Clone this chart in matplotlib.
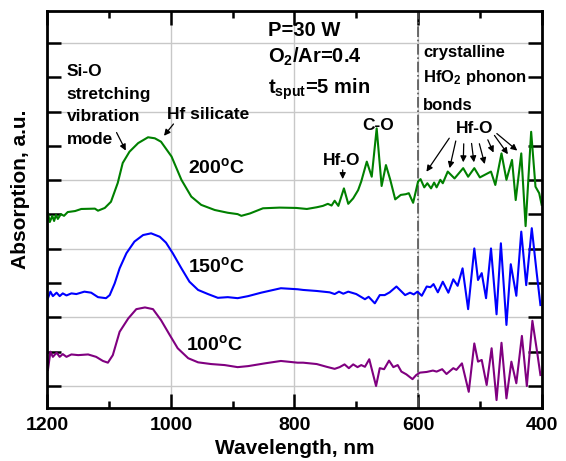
"""
FTIR-style absorption spectra of HfO2 films sputtered at 100/150/200 C.
"""
import matplotlib
matplotlib.use('Agg')
import matplotlib.pyplot as plt
from matplotlib.ticker import MultipleLocator, FixedLocator

plt.rcParams['font.family'] = ['Liberation Sans', 'DejaVu Sans']
plt.rcParams['font.weight'] = 'bold'
plt.rcParams['mathtext.fontset'] = 'custom'
plt.rcParams['mathtext.rm'] = 'Liberation Sans:bold'
plt.rcParams['mathtext.default'] = 'rm'

GREEN = '#008000'
BLUE = '#0000ff'
PURPLE = '#800080'

# --- data (wavelength nm, absorption in arbitrary offset units) ---
wl_200 = [1199, 1196, 1192, 1189, 1186, 1183, 1178, 1173, 1167, 1155, 1145, 1123, 1118,
          1107, 1097, 1086, 1078, 1067, 1053, 1037, 1026, 1016, 999, 983, 967, 951, 929,
          908, 892, 886, 872, 851, 824, 797, 780, 764, 754, 746, 740, 735, 729, 720, 713,
          705, 697, 692, 683, 675, 667, 659, 652, 645, 637, 628, 620, 615, 608, 600, 596,
          590, 585, 579, 574, 570, 564, 560, 552, 541, 527, 519, 509, 500, 482, 475, 465,
          457, 448, 442, 433, 426, 417, 410, 404, 400]
abs_200 = [5.04, 4.78, 4.96, 4.81, 4.99, 4.87, 5.01, 4.96, 5.07, 5.10, 5.16, 5.17, 5.11,
           5.19, 5.37, 5.92, 6.50, 6.83, 7.08, 7.25, 7.22, 7.12, 6.69, 6.01, 5.52, 5.28, 5.13,
           5.05, 5.01, 4.96, 5.03, 5.18, 5.20, 5.19, 5.16, 5.21, 5.25, 5.31, 5.26, 5.40, 5.25,
           5.76, 5.31, 5.47, 5.71, 5.96, 6.54, 6.10, 7.51, 5.83, 6.44, 6.01, 5.44, 5.57, 5.59,
           5.62, 5.34, 5.96, 6.03, 5.79, 5.91, 5.76, 5.93, 5.79, 6.01, 5.91, 6.25, 6.05, 6.35,
           6.10, 6.35, 6.08, 6.25, 5.86, 6.78, 6.01, 6.59, 5.42, 6.78, 4.66, 7.41, 5.81, 5.62,
           5.28]

wl_150 = [1199, 1195, 1191, 1185, 1180, 1175, 1169, 1161, 1153, 1140, 1129, 1118, 1105,
          1099, 1091, 1083, 1072, 1059, 1045, 1032, 1018, 1008, 997, 983, 970, 956, 940,
          924, 908, 892, 875, 854, 822, 795, 786, 764, 743, 735, 728, 721, 713, 700, 686,
          680, 670, 662, 654, 646, 635, 621, 613, 607, 601, 594, 586, 580, 575, 568, 560,
          551, 543, 536, 528, 519, 509, 503, 497, 490, 482, 473, 466, 457, 450, 441, 433,
          425, 416, 408, 402]
abs_150 = [2.56, 2.75, 2.62, 2.72, 2.62, 2.70, 2.64, 2.70, 2.68, 2.75, 2.72, 2.59, 2.56,
           2.65, 2.99, 3.43, 3.87, 4.21, 4.40, 4.45, 4.35, 4.18, 3.87, 3.43, 3.04, 2.80, 2.68,
           2.57, 2.59, 2.56, 2.62, 2.72, 2.85, 2.82, 2.80, 2.77, 2.73, 2.68, 2.75, 2.69, 2.75,
           2.68, 2.53, 2.60, 2.41, 2.65, 2.65, 2.73, 2.90, 2.65, 2.72, 2.67, 2.75, 2.63, 2.90,
           2.88, 2.97, 2.73, 3.04, 2.72, 3.11, 2.92, 3.43, 2.24, 4.01, 3.09, 3.29, 2.56, 4.01,
           2.09, 4.16, 1.78, 3.55, 2.63, 4.50, 2.94, 4.60, 3.29, 2.36]

wl_100 = [1199, 1195, 1191, 1185, 1180, 1175, 1169, 1161, 1150, 1134, 1121, 1110, 1102,
          1094, 1083, 1069, 1056, 1042, 1029, 1016, 1002, 989, 972, 956, 935, 913, 892, 875,
          848, 822, 795, 786, 764, 748, 735, 727, 719, 712, 705, 698, 692, 686, 679, 668,
          662, 655, 647, 640, 633, 627, 619, 609, 603, 597, 586, 576, 570, 561, 554, 543,
          538, 529, 518, 509, 503, 497, 489, 481, 473, 465, 457, 449, 441, 432, 424, 415,
          407, 402]
abs_100 = [0.47, 1.00, 0.85, 0.97, 0.85, 0.93, 0.85, 0.92, 0.90, 0.92, 0.85, 0.73, 0.68,
           0.90, 1.58, 1.97, 2.24, 2.29, 2.24, 1.92, 1.49, 1.10, 0.81, 0.69, 0.64, 0.61, 0.55,
           0.58, 0.66, 0.73, 0.68, 0.68, 0.64, 0.56, 0.50, 0.55, 0.63, 0.52, 0.63, 0.55, 0.61,
           0.56, 0.78, 0.00, 0.52, 0.49, 0.74, 0.55, 0.61, 0.42, 0.34, 0.20, 0.32, 0.39, 0.41,
           0.45, 0.42, 0.49, 0.35, 0.52, 0.47, 0.66, -0.17, 1.24, 0.71, 0.76, 0.03, 1.10,
           -0.41, 1.26, -0.36, 0.71, 0.08, 1.46, 0.00, 1.90, 0.95, 0.32]

# Hf-O phonon arrows (tail -> head, in data coords)
hfo_tails = [(547, 7.29), (538, 7.22), (526, 7.14), (514, 7.15), (502, 7.14),
             (489, 7.25), (479, 7.37), (476, 7.41)]
hfo_heads = [(589, 6.18), (550, 6.27), (527, 6.44), (509, 6.44), (491, 6.39),
             (476, 6.73), (452, 6.69), (436, 6.81)]

B = 'bold'

fig = plt.figure(figsize=(5.66, 4.61), dpi=100)
ax = fig.add_axes([0.0836, 0.1143, 0.8734, 0.8618])

for x, y, c in [(wl_200, abs_200, GREEN), (wl_150, abs_150, BLUE), (wl_100, abs_100, PURPLE)]:
    ax.plot(x, y, color=c, lw=1.5, solid_joinstyle='round')

ax.set_xlim(1200, 400)
ax.set_ylim(-0.65, 10.93)

ax.xaxis.set_major_locator(FixedLocator([1200, 1000, 800, 600, 400]))
ax.xaxis.set_minor_locator(MultipleLocator(100))
ax.yaxis.set_major_locator(MultipleLocator(2))
ax.yaxis.set_minor_locator(MultipleLocator(1))
ax.set_yticklabels([])

ax.grid(True, which='major', color='#c8c8c8', lw=1.0)
ax.set_axisbelow(True)
ax.axvline(600, color='#555555', lw=1.2, ls='-.', zorder=1)

ax.tick_params(which='both', direction='in', top=True, right=True, width=1.8,
               labelsize=14, pad=6)
ax.tick_params(which='major', length=10)
ax.tick_params(axis='x', which='minor', length=5)
ax.tick_params(axis='y', which='minor', length=10)
for lbl in ax.get_xticklabels():
    lbl.set_fontweight(B)
for s in ax.spines.values():
    s.set_linewidth(2)

ax.set_xlabel('Wavelength, nm', fontsize=15, fontweight=B, labelpad=4)
ax.set_ylabel('Absorption, a.u.', fontsize=15, fontweight=B)
ax.yaxis.set_label_coords(-0.035, 0.55)

# process conditions
ax.text(843, 10.19, 'P=30 W', fontsize=14.5, fontweight=B, va='baseline')
ax.text(843, 9.41, r'O$_2$/Ar=0.4', fontsize=14.5, fontweight=B, va='baseline')
ax.text(843, 8.53, r't$_{sput}$=5 min', fontsize=14.5, fontweight=B, va='baseline')

# temperature labels
ax.text(972, 6.20, r'200$^{o}$C', fontsize=14, fontweight=B, va='baseline')
ax.text(972, 3.33, r'150$^{o}$C', fontsize=14, fontweight=B, va='baseline')
ax.text(975, 1.05, r'100$^{o}$C', fontsize=14, fontweight=B, va='baseline')

# Si-O / Hf silicate band
for txt, y in zip(['Si-O', 'stretching', 'vibration', 'mode'], [9.04, 8.37, 7.73, 7.06]):
    ax.text(1169, y, txt, fontsize=12.5, fontweight=B, va='baseline')
ax.text(1006, 7.78, 'Hf silicate', fontsize=12.5, fontweight=B, va='baseline')
arw = dict(arrowstyle='-|>', color='black', lw=0.9, mutation_scale=9)
ax.annotate('', xy=(1071, 6.79), xytext=(1090, 7.46), arrowprops=arw)
ax.annotate('', xy=(1014, 7.23), xytext=(993, 7.70), arrowprops=arw)

# Hf-O and C-O
ax.text(754, 6.44, 'Hf-O', fontsize=12.5, fontweight=B, va='baseline')
ax.annotate('', xy=(722, 5.95), xytext=(722, 6.38), arrowprops=arw)
ax.text(691, 7.46, 'C-O', fontsize=12.5, fontweight=B, va='baseline')

# crystalline HfO2 phonon bonds
ax.text(592, 9.60, 'crystalline', fontsize=12, fontweight=B, va='baseline')
ax.text(592, 8.87, r'HfO$_2$ phonon', fontsize=12, fontweight=B, va='baseline')
ax.text(592, 8.05, 'bonds', fontsize=12, fontweight=B, va='baseline')
ax.text(539, 7.38, 'Hf-O', fontsize=12.5, fontweight=B, va='baseline')
for tail, head in zip(hfo_tails, hfo_heads):
    ax.annotate('', xy=head, xytext=tail, arrowprops=arw)

fig.savefig('out.png', dpi=100)
